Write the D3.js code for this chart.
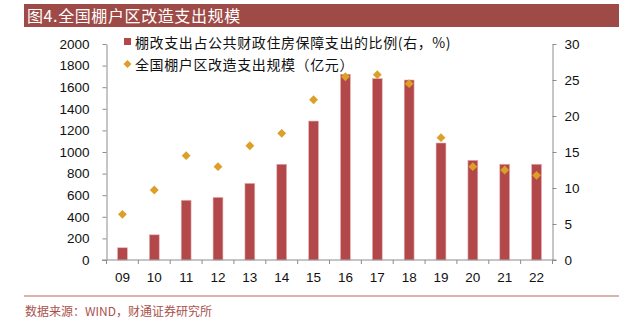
<!DOCTYPE html>
<html>
<head>
<meta charset="utf-8">
<script src="https://cdn.jsdelivr.net/npm/d3@7"></script>
<style>
  html, body { margin: 0; padding: 0; background: #fff; }
  svg { display: block; }
</style>
</head>
<body>
<svg id="chart" width="629" height="334"></svg>
<script>
const categories = ["09","10","11","12","13","14","15","16","17","18","19","20","21","22"];
// 棚改支出占公共财政住房保障支出的比例 (右轴, %)
const ratioValues = [1.7, 3.5, 8.3, 8.7, 10.65, 13.3, 19.3, 25.8, 25.2, 25.0, 16.25, 13.85, 13.3, 13.3];
// 全国棚户区改造支出规模 (左轴, 亿元)
const spendValues = [423, 648, 966, 864, 1058, 1173, 1484, 1697, 1716, 1633, 1133, 864, 833, 784];
const leftTicks = [0, 200, 400, 600, 800, 1000, 1200, 1400, 1600, 1800, 2000];
const rightTicks = [0, 5, 10, 15, 20, 25, 30];
const titleText = "图4.全国棚户区改造支出规模";
const legendLabels = ["棚改支出占公共财政住房保障支出的比例(右，%)", "全国棚户区改造支出规模（亿元）"];
const sourceText = "数据来源：WIND，财通证券研究所";

const barColor = "#B3484A";
const diamondColor = "#DE9F27";
const axisColor = "#8c8c8c";
const brand = "#9E4B47";

const svg = d3.select("#chart");
const plot = { left: 106.5, right: 552.5, top: 44, bottom: 260 };

const x = d3.scaleBand().domain(categories).range([plot.left, plot.right])
  .paddingInner(0.69).paddingOuter(0.345);
const yL = d3.scaleLinear().domain([0, 2000]).range([plot.bottom, plot.top]);
const yR = d3.scaleLinear().domain([0, 30]).range([plot.bottom, plot.top]);

// Title bar
svg.append("rect").attr("x", 24).attr("y", 4).attr("width", 595).attr("height", 23).attr("fill", brand);
svg.append("text").attr("x", 27).attr("y", 21.5)
  .attr("font-family", "'Noto Sans CJK SC', sans-serif").attr("font-size", 16)
  .attr("letter-spacing", 0.6)
  .attr("fill", "#fff").text(titleText);

// Bars
svg.append("g").selectAll("rect").data(categories).join("rect")
  .attr("x", d => x(d))
  .attr("width", x.bandwidth())
  .attr("y", (d, i) => yR(ratioValues[i]))
  .attr("height", (d, i) => plot.bottom - yR(ratioValues[i]))
  .attr("fill", barColor)
  .attr("stroke", "#e8b4b4").attr("stroke-width", 0.6);

// Diamonds
const dsym = d3.symbol().type(d3.symbolDiamond2).size(50);
svg.append("g").selectAll("path").data(categories).join("path")
  .attr("d", dsym)
  .attr("transform", (d, i) => `translate(${x(d) + x.bandwidth() / 2},${yL(spendValues[i])})`)
  .attr("fill", diamondColor);

// Axes
const font = "'Liberation Sans', Arial, sans-serif";
const gL = svg.append("g").attr("transform", `translate(${plot.left},0)`)
  .call(d3.axisLeft(yL).tickValues(leftTicks).tickFormat(d3.format("d")).tickSize(4).tickSizeOuter(0).tickPadding(13));
const gR = svg.append("g").attr("transform", `translate(${plot.right},0)`)
  .call(d3.axisRight(yR).tickValues(rightTicks).tickFormat(d3.format("d")).tickSize(4).tickSizeOuter(0).tickPadding(8));
const xAxis = d3.axisBottom(x).tickSize(0).tickPadding(12);
const gX = svg.append("g").attr("transform", `translate(0,${plot.bottom})`).call(xAxis);
gX.select(".domain").remove();
svg.append("line").attr("x1", 102).attr("x2", 556.5).attr("y1", plot.bottom).attr("y2", plot.bottom)
  .attr("stroke", axisColor).attr("stroke-width", 1);
// x tick marks at band boundaries
const bounds = categories.map(c => x(c) - x.step() * x.paddingInner() / 2).concat([plot.right]);
svg.append("g").selectAll("line").data(bounds).join("line")
  .attr("x1", d => d).attr("x2", d => d).attr("y1", plot.bottom).attr("y2", plot.bottom + 4)
  .attr("stroke", axisColor);

[gL, gR, gX].forEach(g => {
  g.selectAll(".domain").attr("stroke", axisColor);
  g.selectAll(".tick line").attr("stroke", axisColor);
  g.selectAll("text").attr("font-family", font).attr("font-size", 13.5).attr("fill", "#111");
});

// Legend
const lf = "'Noto Sans CJK SC', sans-serif";
svg.append("rect").attr("x", 124).attr("y", 38).attr("width", 7).attr("height", 7).attr("fill", barColor);
svg.append("text").attr("x", 135).attr("y", 47.5).attr("font-family", lf).attr("font-size", 14)
  .attr("letter-spacing", 0.6).attr("fill", "#111").text(legendLabels[0]);
svg.append("path").attr("d", d3.symbol().type(d3.symbolDiamond2).size(40))
  .attr("transform", "translate(127.5,64)").attr("fill", diamondColor);
svg.append("text").attr("x", 135).attr("y", 69.5).attr("font-family", lf).attr("font-size", 14)
  .attr("letter-spacing", 0.6).attr("fill", "#111").text(legendLabels[1]);

// Footer
svg.append("line").attr("x1", 24).attr("x2", 619).attr("y1", 296).attr("y2", 296)
  .attr("stroke", "#B9645F").attr("stroke-width", 1);
svg.append("text").attr("x", 25).attr("y", 316).attr("font-family", lf).attr("font-size", 12)
  .attr("fill", "#A9524D").text(sourceText);
</script>
</body>
</html>
